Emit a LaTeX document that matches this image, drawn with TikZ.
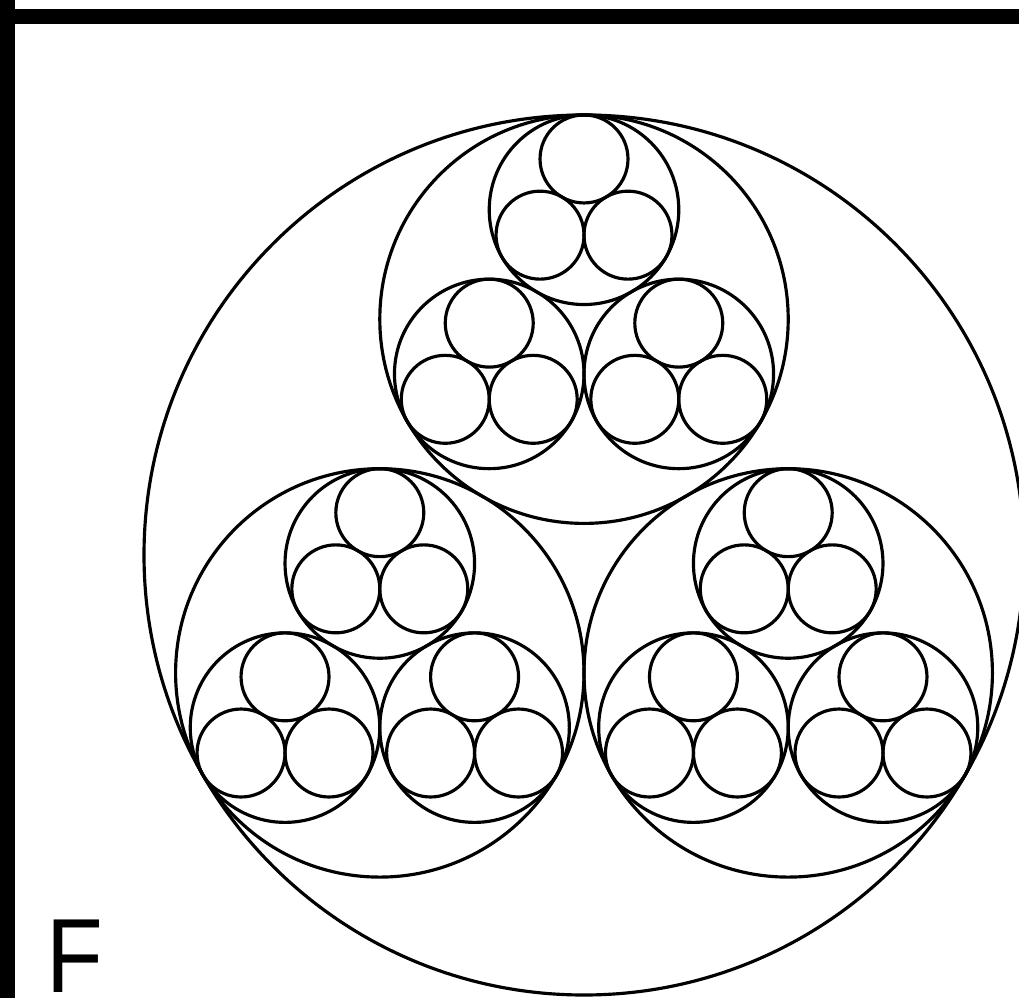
\documentclass[tikz,border=0pt]{standalone}
\usepackage{graphicx}
\usepackage{fontspec}
\setmainfont{Liberation Sans}
\begin{document}
\begin{tikzpicture}[x=0.01cm,y=-0.01cm,
  ring/.style={line width=0.9pt, draw=black},
  bar/.style={fill=black, draw=none}]
\useasboundingbox (0,0) rectangle (1019,998);
\begin{scope}
\clip (0,0) rectangle (1019,998);
\def\R{440}
\def\cx{584}
\def\cy{555}
\pgfmathsetmacro\k{1/(1+2/sqrt(3))}
\pgfmathsetmacro\ra{\R*\k}
\pgfmathsetmacro\rb{\ra*\k}
\pgfmathsetmacro\rc{\rb*\k}
\draw[ring] (\cx,\cy) circle[radius=\R];
\foreach \a in {270,30,150}{
  \pgfmathsetmacro\xa{\cx+(\R-\ra)*cos(\a)}
  \pgfmathsetmacro\ya{\cy+(\R-\ra)*sin(\a)}
  \draw[ring] (\xa,\ya) circle[radius=\ra];
  \foreach \b in {270,30,150}{
    \pgfmathsetmacro\xb{\xa+(\ra-\rb)*cos(\b)}
    \pgfmathsetmacro\yb{\ya+(\ra-\rb)*sin(\b)}
    \draw[ring] (\xb,\yb) circle[radius=\rb];
    \foreach \c in {270,30,150}{
      \pgfmathsetmacro\xc{\xb+(\rb-\rc)*cos(\c)}
      \pgfmathsetmacro\yc{\yb+(\rb-\rc)*sin(\c)}
      \draw[ring] (\xc,\yc) circle[radius=\rc];
    }
  }
}
\end{scope}
\fill[bar] (0,9) rectangle (1019,24);
\fill[bar] (0,0) rectangle (15,998);
\node[anchor=base west, inner sep=0pt, font=\fontsize{30}{30}\selectfont] (lbl) at (46,992) {\scalebox{0.88}[1]{F}};
\end{tikzpicture}
\end{document}
